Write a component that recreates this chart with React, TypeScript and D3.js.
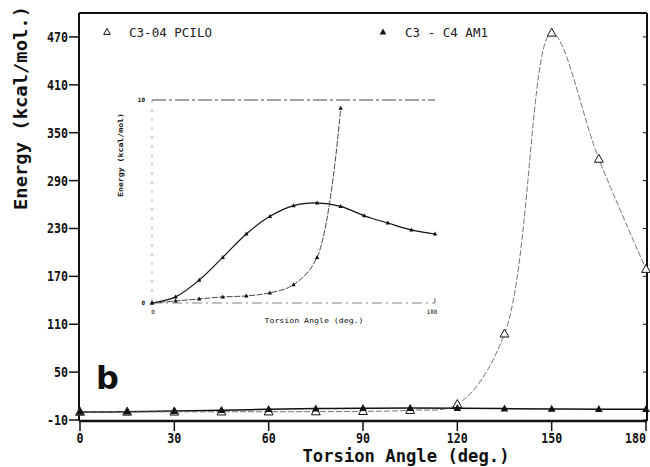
import React from "react";
import * as d3 from "d3";

const angles = [0, 15, 30, 45, 60, 75, 90, 105, 120, 135, 150, 165, 180];
const pcilo = [0, 0.1, 0.2, 0.3, 0.35, 0.5, 0.9, 2.25, 9.6, 98, 475, 317, 179];
const am1 = [0, 0.3, 1.13, 2.25, 3.4, 4.27, 4.8, 4.93, 4.76, 4.3, 3.94, 3.6, 3.4];
const yTicks = [-10, 50, 110, 170, 230, 290, 350, 410, 470];
const xTicks = [0, 30, 60, 90, 120, 150, 180];
const insetPcilo = 9; // number of PCILO points drawn in inset (up to 120 deg)

const W = 650, H = 467;

export default function App() {
  const x = d3.scaleLinear().domain([0, 180]).range([80, 646]);
  const y = d3.scaleLinear().domain([-10, 500]).range([420, 13]);
  const ix = d3.scaleLinear().domain([0, 180]).range([152, 435]);
  const iy = d3.scaleLinear().domain([0, 10]).range([303, 100]);

  const pts = (vals: number[]) => angles.slice(0, vals.length).map((a, i) => [a, vals[i]] as [number, number]);
  const mainLine = d3.line<[number, number]>().x(d => x(d[0])).y(d => y(d[1])).curve(d3.curveCatmullRom.alpha(0.5));
  const insetLine = d3.line<[number, number]>().x(d => ix(d[0])).y(d => iy(d[1])).curve(d3.curveCatmullRom.alpha(0.5));

  const tri = (cx: number, cy: number, s: number) =>
    `M${cx},${cy - s * 0.6}L${cx + s * 0.55},${cy + s * 0.4}L${cx - s * 0.55},${cy + s * 0.4}Z`;

  const pcPts = pts(pcilo);
  const amPts = pts(am1);
  const pcInset = pts(pcilo.slice(0, insetPcilo));

  const mono = "'DejaVu Sans Mono', monospace";

  return (
    <svg width={W} height={H} style={{ position: "absolute", left: 0, top: 0, background: "#fff" }}>
      <rect width={W} height={H} fill="#fff" />
      {/* frame */}
      <line x1={79} y1={13} x2={647} y2={13} stroke="#111" strokeWidth={2} />
      <line x1={647} y1={13} x2={647} y2={421} stroke="#111" strokeWidth={2} />
      <line x1={79} y1={13} x2={79} y2={421} stroke="#111" strokeWidth={2} />
      <line x1={79} y1={421} x2={647} y2={421} stroke="#111" strokeWidth={2.5} />
      {/* y ticks */}
      {yTicks.map(t => (
        <g key={"y" + t}>
          <line x1={69} x2={79} y1={y(t)} y2={y(t)} stroke="#111" strokeWidth={1.5} />
          <line x1={643} x2={647} y1={y(t)} y2={y(t)} stroke="#111" strokeWidth={1} />
          <text x={68} y={y(t) + 5} textAnchor="end" fontFamily={mono} fontWeight="bold" fontSize={14}
            textLength={String(t).length * 7} lengthAdjust="spacingAndGlyphs" fill="#111">{t}</text>
        </g>
      ))}
      {/* x ticks */}
      {xTicks.map(t => (
        <g key={"x" + t}>
          <line x1={x(t)} x2={x(t)} y1={421} y2={431} stroke="#111" strokeWidth={1.5} />
          <text x={t === 180 ? 646 : x(t)} y={443} textAnchor={t === 180 ? "end" : "middle"} fontFamily={mono}
            fontWeight="bold" fontSize={14}
            textLength={String(t).length * 7} lengthAdjust="spacingAndGlyphs" fill="#111">{t}</text>
        </g>
      ))}
      {/* axis labels */}
      <text transform="translate(27,108) rotate(-90)" textAnchor="middle" fontFamily={mono} fontWeight="bold"
        fontSize={17} textLength={204} lengthAdjust="spacingAndGlyphs" fill="#111">Energy (kcal/mol.)</text>
      <text x={406} y={462} textAnchor="middle" fontFamily={mono} fontWeight="bold"
        fontSize={17} textLength={207} lengthAdjust="spacingAndGlyphs" fill="#111">Torsion Angle (deg.)</text>
      {/* legend */}
      <path d={tri(107, 32, 6)} fill="#fff" stroke="#111" strokeWidth={1} />
      <text x={129} y={37} fontFamily={mono} fontSize={13} textLength={83} lengthAdjust="spacingAndGlyphs" fill="#222">C3-04 PCILO</text>
      <path d={tri(383, 32, 6)} fill="#111" />
      <text x={405} y={37} fontFamily={mono} fontSize={13} textLength={83} lengthAdjust="spacingAndGlyphs" fill="#222">C3 - C4 AM1</text>
      {/* b label */}
      <text x={96} y={389} fontFamily="'DejaVu Sans', sans-serif" fontWeight="bold" fontSize={32} fill="#111">b</text>

      {/* main series */}
      <path d={mainLine(amPts) || ""} fill="none" stroke="#111" strokeWidth={1.5} />
      <path d={mainLine(pcPts) || ""} fill="none" stroke="#666" strokeWidth={0.9} strokeDasharray="6,2" />
      {pcPts.map((p, i) => (
        <path key={"pm" + i} d={tri(x(p[0]), y(p[1]), 8)} fill="#fff" stroke="#111" strokeWidth={1} />
      ))}
      {amPts.map((p, i) => (
        <path key={"am" + i} d={tri(x(p[0]), y(p[1]), 7)} fill="#111" />
      ))}

      {/* inset */}
      <g>
        <line x1={152} x2={435} y1={100} y2={100} stroke="#444" strokeWidth={1} strokeDasharray="14,3,3,3" />
        <line x1={152} x2={435} y1={303} y2={303} stroke="#666" strokeWidth={0.8} strokeDasharray="10,4,2,4" />
        <line x1={152} x2={152} y1={100} y2={303} stroke="#888" strokeWidth={0.7} strokeDasharray="3,6" />
        <line x1={435} x2={435} y1={303} y2={298} stroke="#444" strokeWidth={0.8} />
        <text x={145} y={102} textAnchor="end" fontFamily={mono} fontSize={6} fontWeight="bold" fill="#111">10</text>
        <text x={145} y={305} textAnchor="end" fontFamily={mono} fontSize={6} fontWeight="bold" fill="#111">0</text>
        <text x={153} y={314} textAnchor="middle" fontFamily={mono} fontSize={6} fill="#111">0</text>
        <text x={432} y={314} textAnchor="middle" fontFamily={mono} fontSize={6} fill="#111">180</text>
        <text x={314} y={323} textAnchor="middle" fontFamily={mono} fontSize={7} textLength={99}
          lengthAdjust="spacingAndGlyphs" fill="#111">Torsion Angle (deg.)</text>
        <text transform="translate(123,155) rotate(-90)" textAnchor="middle" fontFamily={mono} fontSize={7}
          fontWeight="bold" textLength={84} lengthAdjust="spacingAndGlyphs" fill="#111">Energy (kcal/mol)</text>
        <path d={insetLine(amPts) || ""} fill="none" stroke="#111" strokeWidth={1.2} />
        <path d={insetLine(pcInset) || ""} fill="none" stroke="#333" strokeWidth={0.9} strokeDasharray="6,1.5" />
        {amPts.map((p, i) => (
          <path key={"ia" + i} d={tri(ix(p[0]), iy(p[1]), 4)} fill="#111" />
        ))}
        {pcInset.map((p, i) => (
          <path key={"ip" + i} d={tri(ix(p[0]), iy(p[1]), 4)} fill="#111" />
        ))}
      </g>
    </svg>
  );
}
